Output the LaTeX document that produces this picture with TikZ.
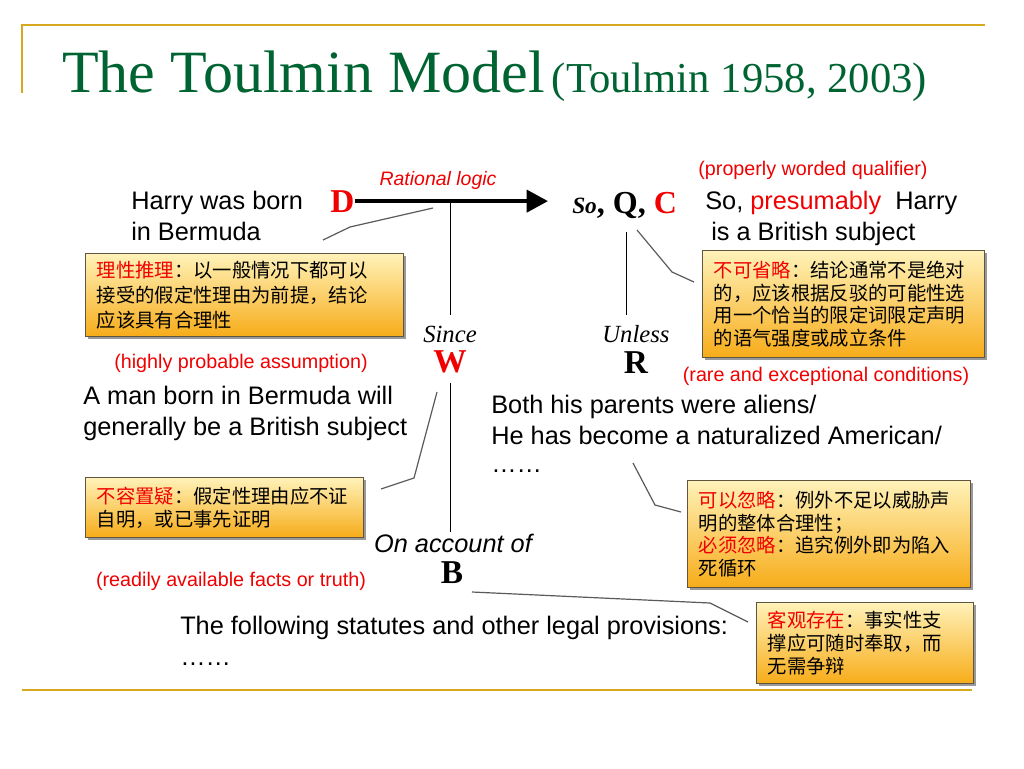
\documentclass[tikz,border=0pt]{standalone}
\usepackage{fontspec}
\setmainfont{Liberation Serif}
\setsansfont{Liberation Sans}
\newfontfamily\cjk{Noto Sans CJK SC}
\usetikzlibrary{arrows.meta,shadows}
\definecolor{gold}{RGB}{214,168,30}
\definecolor{tgreen}{RGB}{0,100,50}
\definecolor{myred}{RGB}{240,0,0}
\definecolor{boxtop}{RGB}{255,242,185}
\definecolor{boxbot}{RGB}{247,172,25}
\definecolor{boxedge}{RGB}{95,85,65}
\definecolor{ptrgray}{RGB}{90,90,90}
\tikzset{
  body/.style={font=\sffamily\fontsize{19}{23}\selectfont, inner sep=0pt, anchor=base west},
  redpar/.style={font=\sffamily\fontsize{14.8}{18}\selectfont, text=myred, inner sep=0pt, anchor=base},
  letter/.style={font=\rmfamily\bfseries\fontsize{25}{30}\selectfont, inner sep=0pt, anchor=base},
  conn/.style={font=\rmfamily\itshape\fontsize{18.5}{22}\selectfont, inner sep=0pt, anchor=base},
  cbox/.style={draw=boxedge, line width=0.8pt, top color=boxtop, bottom color=boxbot,
    drop shadow={shadow xshift=2pt, shadow yshift=-2pt, opacity=0.4, fill=black},
    font=\cjk\fontsize{14.5}{17}\selectfont, align=left, anchor=north west,
    inner xsep=8.5pt, inner ysep=0pt},
  ptr/.style={draw=ptrgray, line width=0.9pt},
  thin/.style={draw=black, line width=0.7pt},
  goldline/.style={draw=gold, line width=1.5pt}
}
\begin{document}
\begin{tikzpicture}[x=0.75pt,y=-0.75pt]
\path[use as bounding box, fill=white] (0,0) rectangle (1024,768);
% frame lines
\draw[goldline] (22,93) -- (22,25) -- (985,25);
\draw[goldline] (22,690) -- (972,690);
% title
\node[anchor=base west, inner sep=0pt, text=tgreen, font=\rmfamily\fontsize{45}{50}\selectfont] (title) at (62,92) {The Toulmin Model};
\node[anchor=base west, inner sep=0pt, text=tgreen, font=\rmfamily\fontsize{32}{38}\selectfont] (title2) at ([xshift=5pt]title.base east) {(Toulmin 1958, 2003)};

% Data
\node[body] (d1) at (131,209) {Harry was born};
\node[body] (d2) at (131,240) {in Bermuda};
\node[letter, text=myred, anchor=base west] (D) at (330,212) {D};
\node[redpar, font=\sffamily\itshape\fontsize{14.6}{18}\selectfont] (rl) at (438,185) {Rational logic};
\node[anchor=base west, inner sep=0pt, font=\rmfamily\bfseries\fontsize{24}{28}\selectfont] (soqc) at (572,213) {{\itshape\fontsize{17.5}{20}\selectfont So}, Q, \textcolor{myred}{C}};
\draw[line width=3pt, -{Triangle[length=16pt,width=16.5pt]}, shorten >=18pt] (D.east) -- (D.east -| soqc.west);

% Claim
\node[redpar] (pq) at (813,175) {(properly worded qualifier)};
\node[body] (c1) at (705,209) {So, \textcolor{myred}{presumably}\ \ Harry};
\node[body] (c2) at (711,240) {is a British subject};

% Warrant
\node[conn] (since) at (450,342) {Since};
\node[letter, text=myred] (W) at (450,372) {W};
\draw[thin, shorten >=7.5pt] (since.north |- D.east) -- (since.north);
\node[redpar] (hp) at (241,368) {(highly probable assumption)};
\node[body] (w1) at (83,404) {A man born in Bermuda will};
\node[body] (w2) at (83,435) {generally be a British subject};

% Rebuttal
\node[conn] (unless) at (636,342) {Unless};
\node[letter] (R) at (636,373) {R};
\draw[thin, shorten <=10pt, shorten >=7.5pt] ([xshift=1.5pt]soqc.south) -- ([xshift=1.5pt]soqc.south |- unless.north);
\node[redpar] (rc) at (826,381) {(rare and exceptional conditions)};
\node[body] (r1) at (491,413) {Both his parents were aliens/};
\node[body] (r2) at (491,444) {He has become a naturalized American/};
\node[body] (r3) at (491,472) {……};

% Backing
\node[body, font=\sffamily\itshape\fontsize{19}{23}\selectfont, anchor=base] (oa) at (453,552) {On account of};
\node[letter] (B) at (452,583) {B};
\draw[thin, shorten <=7.5pt, shorten >=1pt] (W.south) -- (W.south |- oa.north);
\node[redpar] (ra) at (231,586) {(readily available facts or truth)};
\node[body] (b1) at (180,634) {The following statutes and other legal provisions:};
\node[body] (b2) at (180,665) {……};

% Callout boxes
\node[cbox, minimum width=238.5pt, minimum height=62.25pt, text width=221.5pt, font=\cjk\fontsize{14.5}{18.5}\selectfont] (box1) at (85,253)
  {\textcolor{myred}{理性推理}：以一般情况下都可以\\接受的假定性理由为前提，结论\\应该具有合理性};
\node[cbox, minimum width=211.5pt, minimum height=80.25pt, text width=194.5pt] (box2) at (702,250)
  {\textcolor{myred}{不可省略}：结论通常不是绝对\\的，应该根据反驳的可能性选\\用一个恰当的限定词限定声明\\的语气强度或成立条件};
\node[cbox, minimum width=208.5pt, minimum height=45pt, text width=191.5pt] (box3) at (85,477)
  {\textcolor{myred}{不容置疑}：假定性理由应不证\\自明，或已事先证明};
\node[cbox, minimum width=212.25pt, minimum height=80.25pt, text width=195.25pt] (box4) at (687,480)
  {\textcolor{myred}{可以忽略}：例外不足以威胁声\\明的整体合理性；\\\textcolor{myred}{必须忽略}：追究例外即为陷入\\死循环};
\node[cbox, minimum width=162.75pt, minimum height=60.75pt, text width=145.75pt] (box5) at (756,602)
  {\textcolor{myred}{客观存在}：事实性支\\撑应可随时奉取，而\\无需争辩};

% Callout pointers
\coordinate (p1a) at (323,240); \coordinate (p1b) at (350,227); \coordinate (p1c) at (433,208);
\draw[ptr] (p1a) -- (p1b) -- (p1c);
\coordinate (p2a) at (637,230); \coordinate (p2b) at (672,272); \coordinate (p2c) at (694,282);
\draw[ptr] (p2a) -- (p2b) -- (p2c);
\coordinate (p3a) at (437,392); \coordinate (p3b) at (414,478); \coordinate (p3c) at (381,489);
\draw[ptr] (p3a) -- (p3b) -- (p3c);
\coordinate (p4a) at (633,463); \coordinate (p4b) at (655,505); \coordinate (p4c) at (681,512);
\draw[ptr] (p4a) -- (p4b) -- (p4c);
\coordinate (p5a) at (472,592); \coordinate (p5b) at (710,603); \coordinate (p5c) at (748,622);
\draw[ptr] (p5a) -- (p5b) -- (p5c);
\end{tikzpicture}
\end{document}
